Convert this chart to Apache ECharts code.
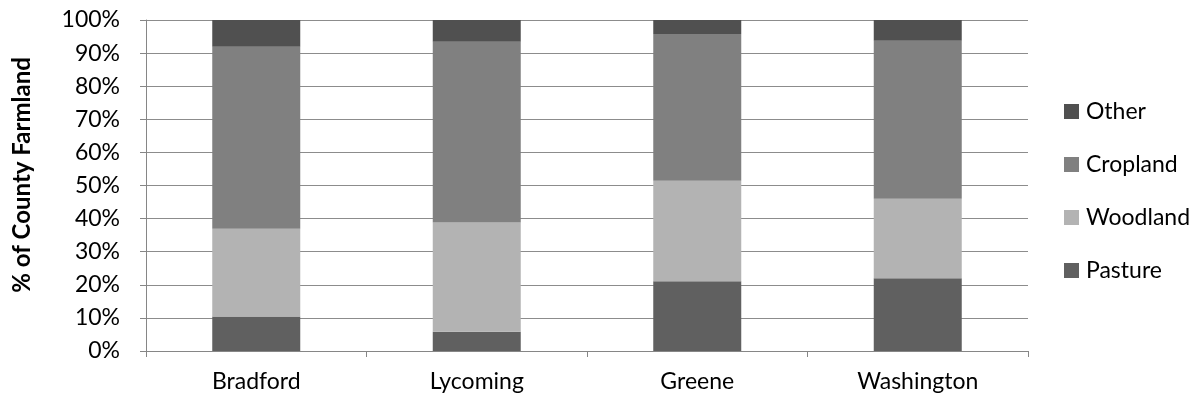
<!DOCTYPE html>
<html>
<head>
<meta charset="utf-8">
<script src="https://cdn.jsdelivr.net/npm/echarts@6/dist/echarts.min.js"></script>
<style>
  html, body { margin: 0; padding: 0; background: #fff; }
  #chart { width: 1200px; height: 400px; }
</style>
</head>
<body>
<div id="chart"></div>
<script>
// Counties shown along the x axis
const counties = ['Bradford', 'Lycoming', 'Greene', 'Washington'];

// Share of county farmland by land use (percent)
const pasture  = [10.4, 5.8, 21.1, 22.0];
const woodland = [26.5, 33.0, 30.3, 24.0];
const cropland = [55.0, 54.6, 44.4, 47.7];
const other    = [8.1, 6.6, 4.2, 6.3];

// Y axis tick values
const yTicks = [0, 10, 20, 30, 40, 50, 60, 70, 80, 90, 100];

const FONT = 'Lato, "Open Sans", sans-serif';
const FS = 23;
const chart = echarts.init(document.getElementById('chart'), null, { renderer: 'canvas' });

const bar = (name, data, color) => ({
  name, type: 'bar', stack: 'land', data,
  barWidth: 88,
  itemStyle: { color },
  emphasis: { disabled: true }
});

chart.setOption({
  animation: false,
  backgroundColor: '#ffffff',
  textStyle: { fontFamily: FONT },
  grid: { left: 146, right: 172, top: 20, bottom: 49, containLabel: false },
  legend: {
    orient: 'vertical',
    left: 1059, top: 95,
    itemWidth: 15, itemHeight: 15, itemGap: 30,
    icon: 'rect',
    data: ['Other', 'Cropland', 'Woodland', 'Pasture'],
    textStyle: { fontFamily: FONT, fontSize: FS, color: '#000', padding: [0, 0, 0, 2] }
  },
  xAxis: {
    type: 'category',
    data: counties,
    axisLine: { lineStyle: { color: '#868686', width: 1 } },
    axisTick: { show: true, length: 6, alignWithLabel: false, lineStyle: { color: '#868686' } },
    axisLabel: { color: '#000', fontSize: FS, fontFamily: FONT, margin: 19 },
    splitLine: { show: false }
  },
  yAxis: {
    type: 'value',
    min: yTicks[0], max: yTicks[yTicks.length - 1], interval: 10,
    axisLine: { show: true, lineStyle: { color: '#868686', width: 1 } },
    axisTick: { show: true, length: 6, lineStyle: { color: '#868686' } },
    axisLabel: { color: '#000', fontSize: FS, fontFamily: FONT, margin: 26, formatter: v => v + '%' },
    splitLine: { show: true, lineStyle: { color: '#8c8c8c', width: 1 } }
  },
  graphic: [{
    type: 'text',
    x: 22, y: 175,
    rotation: Math.PI / 2,
    style: {
      text: '% of County Farmland',
      fontFamily: FONT, fontSize: 24, fontWeight: 'bold', fill: '#000',
      align: 'center', verticalAlign: 'middle'
    }
  }],
  series: [
    bar('Pasture', pasture, '#606060'),
    bar('Woodland', woodland, '#b3b3b3'),
    bar('Cropland', cropland, '#808080'),
    bar('Other', other, '#505050')
  ]
});
</script>
</body>
</html>
